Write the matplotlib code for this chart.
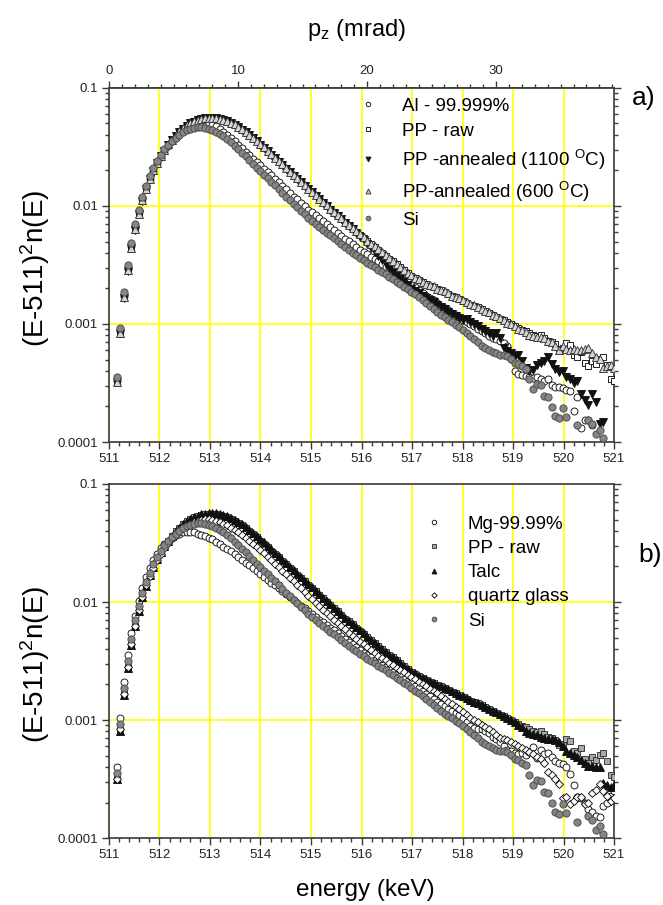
import numpy as np
import matplotlib
matplotlib.use("Agg")
import matplotlib.pyplot as plt
from matplotlib.ticker import MultipleLocator, LogLocator, NullFormatter, FixedLocator, FixedFormatter

plt.rcParams['font.family'] = ['Liberation Sans', 'DejaVu Sans']
plt.rcParams['mathtext.default'] = 'regular'

# ---------------- data ----------------
# spectrometer channel grid (keV)
channel_start = 511.15
channel_width = 0.073
n_channels = 136

# log10 of (E-511)^2 n(E), one value per channel (None = off scale)
si_log = [
    -3.45, -3.03, -2.73, -2.50, -2.31, -2.15, -2.03, -1.92, -1.83, -1.75,
    -1.68, -1.62, -1.565, -1.52, -1.48, -1.45, -1.42, -1.395, -1.375, -1.36,
    -1.345, -1.335, -1.33, -1.33, -1.335, -1.345, -1.36, -1.375, -1.39, -1.41,
    -1.435, -1.46, -1.49, -1.52, -1.55, -1.58, -1.61, -1.645, -1.675, -1.705,
    -1.735, -1.765, -1.795, -1.825, -1.86, -1.89, -1.92, -1.95, -1.98, -2.01,
    -2.04, -2.07, -2.10, -2.125, -2.15, -2.175, -2.20, -2.225, -2.25, -2.275,
    -2.30, -2.325, -2.35, -2.37, -2.395, -2.415, -2.44, -2.46, -2.48, -2.50,
    -2.52, -2.54, -2.56, -2.58, -2.60, -2.62, -2.64, -2.66, -2.685, -2.705,
    -2.73, -2.75, -2.775, -2.80, -2.825, -2.85, -2.875, -2.895, -2.92, -2.945,
    -2.965, -2.985, -3.005, -3.025, -3.05, -3.075, -3.10, -3.13, -3.155, -3.185,
    -3.205, -3.22, -3.235, -3.25, -3.26, -3.26, -3.27, -3.30, -3.33, -3.34,
    -3.36, -3.38, -3.47, -3.55, -3.51, -3.52, -3.61, -3.62, -3.70, -3.78,
    -3.80, -3.71, -3.79, None, None, -3.86, None, None, -3.81, -3.85,
    -3.93, -3.90, -3.97, None, None, None]

pp_raw_log = [
    -3.50, -3.085, -2.78, -2.55, -2.36, -2.20, -2.07, -1.95, -1.86, -1.77,
    -1.70, -1.635, -1.575, -1.525, -1.48, -1.44, -1.40, -1.37, -1.34, -1.315,
    -1.295, -1.28, -1.27, -1.26, -1.255, -1.252, -1.252, -1.255, -1.26, -1.27,
    -1.28, -1.295, -1.31, -1.33, -1.35, -1.375, -1.40, -1.425, -1.45, -1.48,
    -1.505, -1.535, -1.565, -1.595, -1.62, -1.65, -1.68, -1.71, -1.74, -1.77,
    -1.80, -1.825, -1.855, -1.88, -1.91, -1.94, -1.97, -2.00, -2.025, -2.055,
    -2.08, -2.11, -2.14, -2.165, -2.19, -2.22, -2.245, -2.27, -2.30, -2.325,
    -2.35, -2.375, -2.40, -2.425, -2.45, -2.47, -2.495, -2.52, -2.545, -2.57,
    -2.59, -2.61, -2.63, -2.645, -2.66, -2.675, -2.69, -2.70, -2.715, -2.73,
    -2.745, -2.76, -2.775, -2.79, -2.805, -2.82, -2.835, -2.845, -2.86, -2.875,
    -2.89, -2.905, -2.92, -2.94, -2.955, -2.97, -2.985, -3.00, -3.015, -3.03,
    -3.05, -3.06, -3.08, -3.09, -3.10, -3.09, -3.12, -3.14, -3.15, -3.17,
    -3.21, -3.20, -3.16, -3.18, -3.26, -3.28, -3.24, -3.33, -3.36, -3.31,
    -3.34, -3.30, -3.28, -3.35, -3.47, -3.48]

pp1100_log = [
    -3.49, -3.08, -2.78, -2.55, -2.36, -2.20, -2.07, -1.955, -1.86, -1.775,
    -1.70, -1.64, -1.58, -1.53, -1.485, -1.445, -1.405, -1.375, -1.345, -1.32,
    -1.30, -1.285, -1.272, -1.263, -1.258, -1.255, -1.255, -1.258, -1.263, -1.272,
    -1.283, -1.297, -1.313, -1.332, -1.353, -1.377, -1.40, -1.428, -1.453, -1.48,
    -1.51, -1.538, -1.567, -1.597, -1.625, -1.655, -1.685, -1.713, -1.743, -1.773,
    -1.80, -1.83, -1.858, -1.885, -1.915, -1.943, -1.973, -2.00, -2.03, -2.058,
    -2.085, -2.113, -2.142, -2.17, -2.197, -2.225, -2.26, -2.29, -2.32, -2.355,
    -2.39, -2.425, -2.46, -2.495, -2.53, -2.56, -2.59, -2.62, -2.645, -2.67,
    -2.70, -2.72, -2.74, -2.76, -2.78, -2.795, -2.81, -2.835, -2.86, -2.875,
    -2.895, -2.915, -2.93, -2.95, -2.97, -2.96, -2.98, -3.00, -3.02, -3.04,
    -3.06, -3.08, -3.10, -3.08, -3.12, -3.20, -3.23, -3.25, -3.27, -3.26,
    -3.31, -3.37, -3.40, -3.39, -3.35, -3.33, -3.31, -3.28, -3.34, -3.38,
    -3.41, -3.40, -3.45, -3.47, -3.50, -3.48, -3.59, -3.64, -3.69, -3.59,
    -3.66, -3.85, -3.83, None, None, None]

pp600_log = [
    -3.49, -3.08, -2.775, -2.545, -2.355, -2.195, -2.065, -1.95, -1.855, -1.77,
    -1.695, -1.632, -1.573, -1.523, -1.478, -1.438, -1.40, -1.368, -1.34, -1.316,
    -1.296, -1.28, -1.268, -1.26, -1.255, -1.252, -1.252, -1.255, -1.26, -1.268,
    -1.279, -1.293, -1.308, -1.327, -1.348, -1.372, -1.397, -1.422, -1.448, -1.476,
    -1.503, -1.532, -1.562, -1.592, -1.62, -1.648, -1.678, -1.708, -1.737, -1.767,
    -1.797, -1.823, -1.852, -1.878, -1.907, -1.937, -1.965, -1.995, -2.022, -2.05,
    -2.077, -2.105, -2.133, -2.16, -2.187, -2.215, -2.24, -2.265, -2.293, -2.318,
    -2.343, -2.368, -2.393, -2.418, -2.443, -2.465, -2.49, -2.515, -2.54, -2.565,
    -2.588, -2.61, -2.62, -2.64, -2.66, -2.67, -2.68, -2.70, -2.71, -2.72,
    -2.74, -2.76, -2.77, -2.78, -2.80, -2.81, -2.83, -2.84, -2.86, -2.87,
    -2.89, -2.90, -2.92, -2.93, -2.95, -2.97, -2.99, -3.00, -3.02, -3.04,
    -3.05, -3.07, -3.09, -3.10, -3.11, -3.11, -3.12, -3.14, -3.15, -3.19,
    -3.22, -3.19, -3.21, -3.22, -3.21, -3.22, -3.22, -3.21, -3.20, -3.25,
    -3.28, -3.30, -3.37, -3.36, -3.35, -3.37]

al_log = [
    -3.48, -3.06, -2.76, -2.53, -2.34, -2.18, -2.05, -1.94, -1.85, -1.77,
    -1.70, -1.64, -1.585, -1.535, -1.49, -1.45, -1.415, -1.385, -1.36, -1.34,
    -1.325, -1.31, -1.30, -1.295, -1.295, -1.30, -1.31, -1.325, -1.345, -1.37,
    -1.395, -1.42, -1.45, -1.48, -1.51, -1.54, -1.57, -1.60, -1.63, -1.655,
    -1.685, -1.715, -1.74, -1.77, -1.80, -1.83, -1.86, -1.89, -1.92, -1.945,
    -1.975, -2.00, -2.03, -2.055, -2.08, -2.105, -2.13, -2.155, -2.18, -2.205,
    -2.23, -2.255, -2.28, -2.30, -2.325, -2.345, -2.37, -2.39, -2.41, -2.43,
    -2.45, -2.47, -2.49, -2.515, -2.535, -2.555, -2.58, -2.60, -2.625, -2.645,
    -2.67, -2.69, -2.715, -2.735, -2.76, -2.78, -2.80, -2.82, -2.845, -2.865,
    -2.885, -2.905, -2.925, -2.945, -2.965, -2.985, -3.00, -3.02, -3.04, -3.06,
    -3.08, -3.10, -3.12, -3.13, -3.14, -3.16, -3.19, -3.30, -3.40, -3.42,
    -3.43, -3.44, -3.45, -3.46, -3.45, -3.47, -3.48, -3.47, -3.52, -3.53,
    -3.53, -3.54, -3.56, -3.57, -3.74, -3.62, -3.88, -3.81, -3.81, -3.86,
    None, None, None, None, None, None]

mg_log = [
    -3.40, -2.98, -2.68, -2.45, -2.265, -2.12, -1.99, -1.88, -1.79, -1.71,
    -1.645, -1.59, -1.545, -1.51, -1.48, -1.455, -1.435, -1.42, -1.41, -1.405,
    -1.405, -1.41, -1.42, -1.43, -1.44, -1.455, -1.47, -1.49, -1.51, -1.53,
    -1.55, -1.57, -1.595, -1.62, -1.645, -1.67, -1.69, -1.71, -1.735, -1.76,
    -1.785, -1.81, -1.835, -1.86, -1.885, -1.91, -1.935, -1.955, -1.98, -2.005,
    -2.03, -2.05, -2.075, -2.10, -2.125, -2.15, -2.17, -2.195, -2.22, -2.24,
    -2.265, -2.29, -2.31, -2.335, -2.36, -2.38, -2.405, -2.43, -2.45, -2.47,
    -2.49, -2.51, -2.53, -2.55, -2.57, -2.59, -2.61, -2.63, -2.65, -2.67,
    -2.69, -2.71, -2.73, -2.755, -2.78, -2.80, -2.825, -2.845, -2.865, -2.885,
    -2.905, -2.92, -2.94, -2.96, -2.985, -3.02, -3.05, -3.07, -3.075, -3.08,
    -3.09, -3.11, -3.14, -3.16, -3.19, -3.22, -3.25, -3.26, -3.28, -3.29,
    -3.28, -3.30, -3.27, -3.23, -3.32, -3.25, -3.29, -3.28, -3.31, -3.35,
    -3.36, -3.37, -3.40, -3.46, -3.55, -3.65, -3.66, -3.70, -3.75, -3.78,
    -3.81, -3.82, -3.73, -3.70, -3.64, -3.60]

talc_log = [
    -3.50, -3.09, -2.785, -2.555, -2.365, -2.205, -2.075, -1.955, -1.865, -1.775,
    -1.70, -1.637, -1.577, -1.527, -1.482, -1.442, -1.402, -1.372, -1.342, -1.317,
    -1.297, -1.28, -1.268, -1.258, -1.252, -1.249, -1.248, -1.25, -1.255, -1.263,
    -1.273, -1.287, -1.302, -1.32, -1.34, -1.363, -1.388, -1.413, -1.44, -1.468,
    -1.495, -1.523, -1.553, -1.583, -1.612, -1.642, -1.672, -1.702, -1.732, -1.762,
    -1.792, -1.818, -1.848, -1.875, -1.905, -1.935, -1.963, -1.993, -2.02, -2.05,
    -2.075, -2.105, -2.133, -2.16, -2.185, -2.213, -2.24, -2.265, -2.293, -2.32,
    -2.345, -2.37, -2.395, -2.42, -2.445, -2.468, -2.492, -2.515, -2.54, -2.565,
    -2.585, -2.605, -2.625, -2.64, -2.655, -2.67, -2.685, -2.70, -2.71, -2.725,
    -2.74, -2.755, -2.77, -2.785, -2.80, -2.815, -2.83, -2.845, -2.86, -2.875,
    -2.89, -2.905, -2.92, -2.935, -2.95, -2.965, -2.98, -3.00, -3.02, -3.04,
    -3.06, -3.09, -3.11, -3.12, -3.13, -3.14, -3.15, -3.16, -3.16, -3.17,
    -3.19, -3.22, -3.26, -3.28, -3.30, -3.31, -3.34, -3.36, -3.39, -3.39,
    -3.40, -3.40, -3.53, -3.55, -3.57, -3.55]

quartz_log = [
    -3.50, -3.08, -2.78, -2.55, -2.36, -2.20, -2.07, -1.955, -1.86, -1.78,
    -1.71, -1.645, -1.59, -1.54, -1.50, -1.46, -1.43, -1.40, -1.375, -1.355,
    -1.34, -1.325, -1.315, -1.305, -1.30, -1.30, -1.305, -1.31, -1.32, -1.335,
    -1.35, -1.37, -1.39, -1.41, -1.435, -1.46, -1.485, -1.51, -1.535, -1.56,
    -1.585, -1.615, -1.645, -1.675, -1.705, -1.735, -1.765, -1.795, -1.825, -1.855,
    -1.885, -1.915, -1.945, -1.975, -2.005, -2.035, -2.065, -2.09, -2.12, -2.15,
    -2.175, -2.205, -2.23, -2.26, -2.285, -2.31, -2.335, -2.36, -2.385, -2.41,
    -2.43, -2.455, -2.475, -2.495, -2.515, -2.535, -2.555, -2.575, -2.595, -2.615,
    -2.635, -2.655, -2.675, -2.695, -2.715, -2.735, -2.755, -2.775, -2.80, -2.82,
    -2.845, -2.865, -2.89, -2.91, -2.935, -2.955, -2.98, -3.00, -3.02, -3.04,
    -3.06, -3.08, -3.10, -3.13, -3.15, -3.16, -3.17, -3.19, -3.20, -3.22,
    -3.24, -3.25, -3.27, -3.29, -3.31, -3.33, -3.36, -3.44, -3.47, -3.50,
    -3.54, -3.66, -3.65, -3.71, -3.69, -3.65, -3.65, -3.71, -3.70, -3.62,
    -3.59, -3.54, -3.60, -3.64, -3.69, -3.66]

labels_a = ["Al - 99.999%", "PP - raw", "PP -annealed (1100 $^{O}$C)",
            "PP-annealed (600 $^{O}$C)", "Si"]
labels_b = ["Mg-99.99%", "PP - raw", "Talc", "quartz glass", "Si"]

x_ticks = list(range(511, 522))
y_ticks = [1e-4, 1e-3, 1e-2, 1e-1]
y_tick_labels = ["0.0001", "0.001", "0.01", "0.1"]
pz_ticks = [0, 10, 20, 30]

# ---------------- figure ----------------
energy = np.round(channel_start + channel_width * np.arange(n_channels), 3)


def to_val(lst):
    return 10.0 ** np.array(lst, dtype=float)


fig = plt.figure(figsize=(6.63, 9.05), dpi=100)
axa = fig.add_axes([0.1644, 0.5116, 0.7617, 0.3912])
axb = fig.add_axes([0.1644, 0.0740, 0.7617, 0.3912])

SPINE = '#3a3a3a'
YEL = '#ffff00'
MEW = 0.65

style_open_circle = dict(marker='o', ms=5.0, mfc='white', mec='#111111')
style_open_square = dict(marker='s', ms=4.6, mfc='white', mec='#111111')
style_down_tri = dict(marker='v', ms=5.4, mfc='#111111', mec='#111111')
style_up_tri_light = dict(marker='^', ms=5.4, mfc='#d4d4d4', mec='#333333')
style_si = dict(marker='o', ms=5.2, mfc='#858585', mec='#4a4a4a')
style_grey_square = dict(marker='s', ms=4.6, mfc='#a8a8a8', mec='#333333')
style_up_tri_black = dict(marker='^', ms=5.4, mfc='#111111', mec='#111111')
style_diamond = dict(marker='D', ms=4.2, mfc='white', mec='#111111')

series_a = [(al_log, style_open_circle), (pp_raw_log, style_open_square),
            (pp1100_log, style_down_tri), (pp600_log, style_up_tri_light),
            (si_log, style_si)]
series_b = [(mg_log, style_open_circle), (pp_raw_log, style_grey_square),
            (talc_log, style_up_tri_black), (quartz_log, style_diamond),
            (si_log, style_si)]

for ax, series, labels in ((axa, series_a, labels_a), (axb, series_b, labels_b)):
    for (vals, st), lab in zip(series, labels):
        ax.plot(energy, to_val(vals), ls='none', mew=MEW, label=lab, zorder=3, **st)
    ax.set_yscale('log')
    ax.set_xlim(511, 521)
    ax.set_ylim(1e-4, 0.1)
    ax.xaxis.set_major_locator(FixedLocator(x_ticks))
    ax.xaxis.set_minor_locator(MultipleLocator(0.2))
    ax.set_xticklabels([str(t) for t in x_ticks])
    ax.yaxis.set_major_locator(FixedLocator(y_ticks))
    ax.yaxis.set_major_formatter(FixedFormatter(y_tick_labels))
    ax.yaxis.set_minor_locator(LogLocator(base=10, subs=np.arange(2, 10)))
    ax.yaxis.set_minor_formatter(NullFormatter())
    ax.grid(True, which='major', color=YEL, lw=1.2, zorder=1)
    ax.set_axisbelow(True)
    for s in ax.spines.values():
        s.set_color(SPINE)
        s.set_linewidth(1.2)
    ax.tick_params(which='both', direction='out', colors=SPINE, labelcolor='#222222',
                   labelsize=9.5, top=False, right=True, left=True, bottom=True, width=1.0)
    ax.tick_params(which='major', length=5, pad=3)
    ax.tick_params(which='minor', length=3)

# top axis (p_z) for panel a
secax = axa.secondary_xaxis('top', functions=(lambda e: (e - 511.0) / 511.0 * 2000.0,
                                               lambda p: 511.0 + p * 511.0 / 2000.0))
secax.xaxis.set_major_locator(FixedLocator(pz_ticks))
secax.xaxis.set_minor_locator(MultipleLocator(1))
secax.tick_params(which='both', direction='out', colors=SPINE, labelcolor='#222222',
                  labelsize=9.5, width=1.0)
secax.tick_params(which='major', length=5, pad=3)
secax.tick_params(which='minor', length=3)
secax.spines['top'].set_color(SPINE)
secax.spines['top'].set_linewidth(1.2)

# legends
leg_kw = dict(loc='upper left', frameon=False, fontsize=13.5, handlelength=1.0,
              handletextpad=1.31, borderpad=0, borderaxespad=0,
              markerscale=0.65, numpoints=1)
axa.legend(bbox_to_anchor=(0.494, 0.973), labelspacing=0.42, **leg_kw)
axb.legend(bbox_to_anchor=(0.625, 0.911), labelspacing=0.38, **leg_kw)

# labels
fig.text(357 / 663, 1 - 30 / 905, 'p$_z$ (mrad)', fontsize=17, ha='center', va='center')
fig.text(365 / 663, 1 - 890 / 905, 'energy (keV)', fontsize=17.5, ha='center', va='center')
fig.text(35 / 663, 1 - 268 / 905, '(E-511)$^2$n(E)', fontsize=20, rotation=90,
         ha='center', va='center')
fig.text(35 / 663, 1 - 664 / 905, '(E-511)$^2$n(E)', fontsize=20, rotation=90,
         ha='center', va='center')
fig.text(644 / 663, 1 - 98 / 905, 'a)', fontsize=19, ha='center', va='center')
fig.text(650 / 663, 1 - 555 / 905, 'b)', fontsize=19, ha='center', va='center')

fig.savefig('out.png', dpi=100)
